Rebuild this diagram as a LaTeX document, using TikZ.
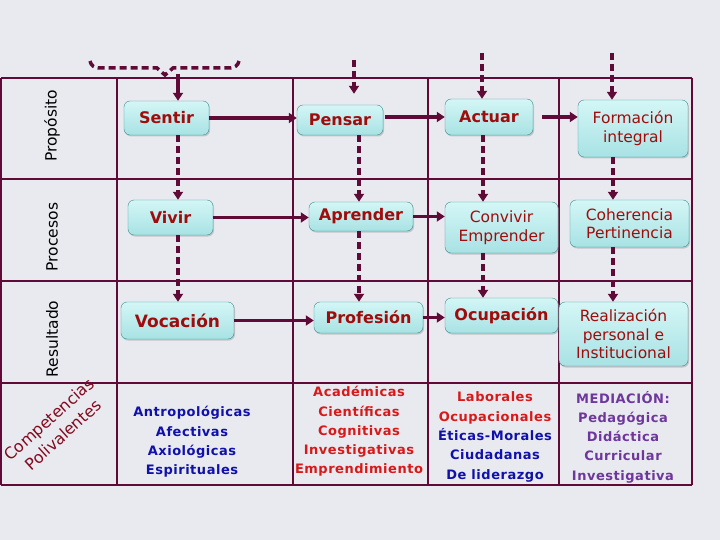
\documentclass[tikz,border=0pt]{standalone}
\usepackage{fontspec}
\setmainfont{DejaVu Sans}
\usetikzlibrary{arrows.meta,shadows}
\definecolor{fondo}{RGB}{232,234,240}
\definecolor{vino}{RGB}{95,10,55}
\definecolor{turq}{RGB}{60,140,140}
\definecolor{celeste}{RGB}{212,246,246}
\definecolor{celeste2}{RGB}{168,226,228}
\definecolor{rojo}{RGB}{160,12,12}
\definecolor{rojo2}{RGB}{215,25,25}
\definecolor{azul}{RGB}{16,16,170}
\definecolor{morado}{RGB}{110,55,155}
\definecolor{granate}{RGB}{130,10,30}

\begin{document}
\begin{tikzpicture}[x=1pt,y=-1pt]
\tikzstyle{caja}=[rectangle, rounded corners=6pt, draw=turq, top color=celeste, bottom color=celeste2, drop shadow={shadow xshift=1pt,shadow yshift=-1.5pt,opacity=.35}, text=rojo, align=center, inner sep=2pt]
\tikzstyle{fuerte}=[font=\fontsize{16}{19}\selectfont\bfseries]
\tikzstyle{suave}=[font=\fontsize{15.5}{18.5}\selectfont]
\tikzstyle{fila}=[rotate=90, font=\fontsize{15.5}{18}\selectfont]
\tikzstyle{lista}=[align=center, font=\fontsize{13}{19.3}\selectfont\bfseries\addfontfeature{LetterSpace=4}]
\tikzstyle{linea}=[line width=3.5pt, draw=vino]
\tikzstyle{flecha}=[linea, -{Triangle[length=8pt,width=10pt]}]
\tikzstyle{punteado}=[dash pattern=on 7pt off 4pt]
\useasboundingbox (0,0) rectangle (720,540);
\fill[fondo] (0,0) rectangle (720,540);
\foreach \y in {78,179,281,383,485}
  \draw[vino, line width=1.2pt] (1,\y) -- (692,\y);
\foreach \x in {1,117,293,428,559,692}
  \draw[vino, line width=1.2pt] (\x,78) -- (\x,485);
\node[fila] (proposito) at (52,126) {Propósito};
\node[fila] (procesos) at (52,237) {Procesos};
\node[fila] (resultado) at (52,339) {Resultado};
\node[rotate=42, align=center, text=granate, font=\fontsize{16}{21}\selectfont] (competencias) at (56,427) {Competencias\\Polivalentes};
\node[caja,fuerte,minimum width=85pt,minimum height=34pt] (sentir) at (166.5,118) {Sentir};
\node[caja,fuerte,minimum width=86pt,minimum height=30pt] (pensar) at (340,120) {Pensar};
\node[caja,fuerte,minimum width=88pt,minimum height=36pt] (actuar) at (489,117) {Actuar};
\node[caja,suave,minimum width=110pt,minimum height=57pt] (formacion) at (633,128.5) {Formación\\integral};
\node[caja,fuerte,minimum width=85pt,minimum height=35pt] (vivir) at (170.5,217.5) {Vivir};
\node[caja,fuerte,minimum width=104pt,minimum height=29pt] (aprender) at (361,216.5) {Aprender};
\node[caja,suave,minimum width=113pt,minimum height=51pt] (convivir) at (501.5,227.5) {Convivir\\Emprender};
\node[caja,suave,minimum width=119pt,minimum height=47pt] (coherencia) at (629.5,223.5) {Coherencia\\Pertinencia};
\node[caja,fuerte,font=\fontsize{17}{19}\selectfont\bfseries,minimum width=113pt,minimum height=37pt] (vocacion) at (177.5,320.5) {Vocación};
\node[caja,fuerte,minimum width=109pt,minimum height=31pt] (profesion) at (368.5,317.5) {Profesión};
\node[caja,fuerte,minimum width=113pt,minimum height=35pt] (ocupacion) at (501.5,315.5) {Ocupación};
\node[caja,suave,minimum width=129pt,minimum height=64pt] (realizacion) at (623.5,334) {Realización\\personal e\\Institucional};
\node[lista,text=azul] (personales) at (192,442) {Antropológicas\\Afectivas\\Axiológicas\\Espirituales};
\node[lista,text=rojo2] (profesionales) at (359,431.5) {Académicas\\Científicas\\Cognitivas\\Investigativas\\Emprendimiento};
\node[lista] (laborales) at (495,437) {\textcolor{rojo2}{Laborales}\\\textcolor{rojo2}{Ocupacionales}\\\textcolor{azul}{Éticas-Morales}\\\textcolor{azul}{Ciudadanas}\\\textcolor{azul}{De liderazgo}};
\node[lista,text=morado] (mediacion) at (623,437) {MEDIACIÓN:\\Pedagógica\\Didáctica\\Curricular\\Investigativa};
\coordinate (k1) at (178,0);
\coordinate (k2) at (359,0);
\coordinate (k3) at (483,0);
\coordinate (k4) at (613,0);
\coordinate (t1) at (178,74);
\coordinate (t2) at (354,60);
\coordinate (t3) at (482,53);
\coordinate (t4) at (612,53);
\draw[linea,punteado] (90,61) to[out=-80,in=180] (99,68) -- (157,68) -- (165,75) -- (173,68) -- (230,68) to[out=0,in=-100] (239,61);
\draw[flecha] (t1) -- (t1 |- sentir.north);
\draw[flecha,punteado,shorten >=11pt] (t2) -- (t2 |- pensar.north);
\draw[flecha,punteado] (t3) -- (t3 |- actuar.north);
\draw[flecha,punteado] (t4) -- (t4 |- formacion.north);
\draw[flecha] (sentir.east) -- (pensar.west |- sentir.east);
\draw[flecha,shorten <=2pt] (pensar.east |- actuar.west) -- (actuar.west);
\draw[flecha,shorten <=9pt] (actuar.east) -- (formacion.west |- actuar.east);
\draw[flecha] (vivir.east) -- (aprender.west |- vivir.east);
\draw[flecha] (aprender.east) -- (convivir.west |- aprender.east);
\draw[flecha] (vocacion.east) -- (profesion.west |- vocacion.east);
\draw[flecha] (profesion.east) -- (ocupacion.west |- profesion.east);
\draw[flecha,punteado] (sentir.south -| k1) -- (vivir.north -| k1);
\draw[flecha,punteado] (vivir.south -| k1) -- (vocacion.north -| k1);
\draw[flecha,punteado] (pensar.south -| k2) -- (aprender.north -| k2);
\draw[flecha,punteado] (aprender.south -| k2) -- (profesion.north -| k2);
\draw[flecha,punteado] (actuar.south -| k3) -- (convivir.north -| k3);
\draw[flecha,punteado] (convivir.south -| k3) -- (ocupacion.north -| k3);
\draw[flecha,punteado] (formacion.south -| k4) -- (coherencia.north -| k4);
\draw[flecha,punteado] (coherencia.south -| k4) -- (realizacion.north -| k4);
\end{tikzpicture}
\end{document}
